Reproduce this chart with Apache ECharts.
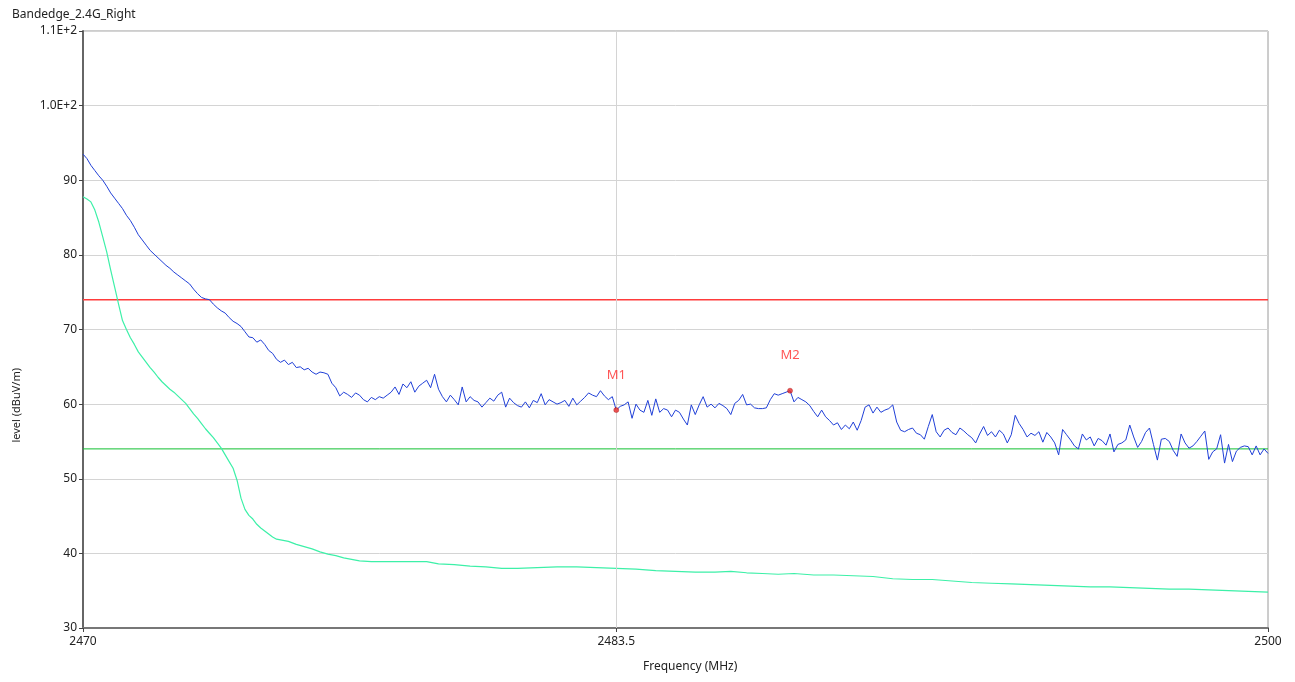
<!DOCTYPE html>
<html>
<head>
<meta charset="utf-8">
<script src="https://cdn.jsdelivr.net/npm/echarts@6/dist/echarts.min.js"></script>
<style>
html,body{margin:0;padding:0;background:#fff;}
#chart{width:1295px;height:682px;}
</style>
</head>
<body>
<div id="chart"></div>
<script>
// ---- data ----
const chartTitle = 'Bandedge_2.4G_Right';
const xName = 'Frequency (MHz)';
const yName = 'level (dBuV/m)';
const xMin = 2470, xMax = 2500;
const xTickValues = [2470, 2483.5, 2500];
const xTickLabels = ['2470', '2483.5', '2500'];
const yTickValues = [30, 40, 50, 60, 70, 80, 90, 100, 110];
const yTickLabels = ['30', '40', '50', '60', '70', '80', '90', '1.0E+2', '1.1E+2'];

// Peak trace (blue), sampled every 0.1 MHz from 2470 MHz
const peakStart = 2470;
const peakStep = 0.1;
const peakLevel = [
  93.5, 92.9, 92.0, 91.3, 90.6, 90.0, 89.2, 88.3, 87.6, 86.9,
  86.2, 85.3, 84.6, 83.7, 82.7, 82.0, 81.3, 80.6, 80.1, 79.6,
  79.1, 78.6, 78.2, 77.7, 77.3, 76.9, 76.5, 76.1, 75.4, 74.8,
  74.3, 74.1, 74.0, 73.4, 72.9, 72.5, 72.2, 71.6, 71.1, 70.8,
  70.4, 69.7, 69.0, 68.9, 68.3, 68.6, 68.0, 67.2, 66.8, 66.0,
  65.6, 65.9, 65.3, 65.6, 64.9, 65.0, 64.6, 64.8, 64.3, 64.0,
  64.3, 64.2, 64.0, 62.8, 62.2, 61.1, 61.6, 61.3, 60.9, 61.5,
  61.2, 60.6, 60.3, 60.9, 60.6, 61.0, 60.8, 61.2, 61.6, 62.3,
  61.3, 62.7, 62.2, 63.0, 61.6, 62.4, 62.8, 63.2, 62.2, 64.0,
  62.0, 61.0, 60.3, 61.2, 60.6, 59.9, 62.3, 60.3, 61.0, 60.5,
  60.3, 59.6, 60.2, 60.8, 60.4, 61.2, 61.6, 59.6, 60.8, 60.2,
  59.8, 59.6, 60.3, 59.5, 60.5, 60.2, 61.4, 59.9, 60.6, 60.3,
  60.0, 60.2, 60.5, 59.7, 60.8, 59.9, 60.4, 60.9, 61.5, 61.2,
  61.0, 61.8, 61.1, 60.6, 61.0, 59.2, 59.7, 59.9, 60.3, 58.1,
  60.0, 59.2, 58.9, 60.5, 58.5, 60.7, 58.9, 59.4, 59.2, 58.3,
  59.2, 58.9, 58.0, 57.2, 59.9, 58.6, 59.9, 61.0, 59.6, 60.0,
  59.5, 60.1, 59.8, 59.4, 58.6, 60.1, 60.5, 61.3, 59.9, 60.0,
  59.5, 59.4, 59.4, 59.5, 60.6, 61.4, 61.2, 61.4, 61.6, 61.8,
  60.3, 60.9, 60.6, 60.3, 59.8, 59.0, 58.3, 59.2, 58.3, 57.8,
  57.2, 57.5, 56.6, 57.2, 56.7, 57.6, 56.5, 57.8, 59.6, 59.9,
  58.8, 59.6, 58.9, 59.2, 59.4, 59.9, 57.6, 56.5, 56.3, 56.6,
  56.8, 56.1, 55.9, 55.3, 57.0, 58.6, 56.3, 55.6, 56.5, 56.8,
  56.2, 55.9, 56.8, 56.4, 55.9, 55.5, 54.8, 56.0, 57.0, 55.8,
  56.3, 55.6, 56.5, 56.0, 54.8, 55.9, 58.5, 57.4, 56.6, 55.6,
  56.1, 55.8, 56.3, 54.9, 56.2, 55.6, 54.8, 53.2, 56.6, 55.9,
  55.2, 54.4, 54.0, 56.0, 55.2, 55.6, 54.4, 55.4, 55.1, 54.5,
  56.0, 53.6, 54.6, 54.8, 55.2, 57.2, 55.6, 54.2, 55.0, 56.2,
  56.8, 54.6, 52.5, 55.3, 55.4, 55.0, 53.8, 53.0, 56.0, 54.8,
  54.1, 54.4, 55.0, 55.7, 56.4, 52.6, 53.6, 54.0, 55.9, 52.1,
  54.6, 52.3, 53.7, 54.2, 54.4, 54.3, 53.2, 54.4, 53.2, 54.0,
  53.4
];

// Average trace (cyan)
const avgFreq = [
  2470.0, 2470.1, 2470.2, 2470.3, 2470.4, 2470.5, 2470.6, 2470.7, 2470.8, 2470.9,
  2471.0, 2471.1, 2471.2, 2471.3, 2471.4, 2471.5, 2471.6, 2471.7, 2471.8, 2471.9,
  2472.0, 2472.1, 2472.2, 2472.3, 2472.4, 2472.5, 2472.6, 2472.7, 2472.8, 2472.9,
  2473.0, 2473.1, 2473.2, 2473.3, 2473.4, 2473.5, 2473.6, 2473.7, 2473.8, 2473.9,
  2474.0, 2474.1, 2474.2, 2474.3, 2474.4, 2474.5, 2474.6, 2474.7, 2474.8, 2474.9,
  2475.0, 2475.2, 2475.4, 2475.6, 2475.8, 2476.0, 2476.2, 2476.4, 2476.6, 2476.8,
  2477.0, 2477.3, 2477.6, 2478.0, 2478.4, 2478.7, 2479.0, 2479.4, 2479.8, 2480.2,
  2480.6, 2481.0, 2481.5, 2482.0, 2482.5, 2483.0, 2483.5, 2484.0, 2484.5, 2485.0,
  2485.5, 2486.0, 2486.4, 2486.8, 2487.2, 2487.6, 2488.0, 2488.5, 2489.0, 2489.5,
  2490.0, 2490.5, 2491.0, 2491.5, 2492.0, 2492.5, 2493.0, 2493.5, 2494.0, 2494.5,
  2495.0, 2495.5, 2496.0, 2496.5, 2497.0, 2497.5, 2498.0, 2498.5, 2499.0, 2499.5,
  2500.0
];
const avgLevel = [
  87.8, 87.5, 87.1, 86.0, 84.4, 82.4, 80.4, 78.0, 75.7, 73.4,
  71.2, 70.0, 68.9, 68.0, 67.0, 66.3, 65.6, 64.9, 64.3, 63.6,
  63.0, 62.5, 62.0, 61.6, 61.1, 60.6, 60.1, 59.4, 58.7, 58.1,
  57.4, 56.7, 56.1, 55.5, 54.8, 54.1, 53.2, 52.3, 51.4, 49.8,
  47.4, 45.9, 45.1, 44.6, 43.9, 43.4, 43.0, 42.6, 42.2, 41.9,
  41.8, 41.6, 41.2, 40.9, 40.6, 40.2, 39.9, 39.7, 39.4, 39.2,
  39.0, 38.9, 38.9, 38.9, 38.9, 38.9, 38.6, 38.5, 38.3, 38.2,
  38.0, 38.0, 38.1, 38.2, 38.2, 38.1, 38.0, 37.9, 37.7, 37.6,
  37.5, 37.5, 37.6, 37.4, 37.3, 37.2, 37.3, 37.1, 37.1, 37.0,
  36.9, 36.6, 36.5, 36.5, 36.3, 36.1, 36.0, 35.9, 35.8, 35.7,
  35.6, 35.5, 35.5, 35.4, 35.3, 35.2, 35.2, 35.1, 35.0, 34.9,
  34.8
];

// Limit lines
const limitPeak = 74;
const limitAvg = 54;

// Markers
const markerNames = ['M1', 'M2'];
const markerFreq = [2483.5, 2487.9];
const markerLevel = [59.2, 61.8];

// ---- chart ----
const peakData = peakLevel.map((v, i) => [+(peakStart + i * peakStep).toFixed(1), v]);
const avgData = avgFreq.map((f, i) => [f, avgLevel[i]]);
const markerData = markerNames.map((n, i) => ({ name: n, value: [markerFreq[i], markerLevel[i]] }));

const fontFam = '"Segoe UI", "Noto Sans", "DejaVu Sans", sans-serif';
const chart = echarts.init(document.getElementById('chart'), null, { renderer: 'canvas' });

function hLine(name, value, color, width) {
  return {
    name: name, type: 'line', z: 2, silent: true, showSymbol: false,
    data: [[xMin, value], [xMax, value]],
    lineStyle: { color: color, width: width },
    itemStyle: { color: color }
  };
}

chart.setOption({
  animation: false,
  backgroundColor: '#ffffff',
  grid: {
    left: 83, right: 27, top: 31, bottom: 54,
    show: true, borderColor: '#9a9a9a', borderWidth: 1, backgroundColor: 'transparent'
  },
  title: {
    text: chartTitle, left: 7, top: 4,
    textStyle: { fontSize: 12, fontWeight: 'normal', color: '#222', fontFamily: fontFam }
  },
  graphic: [
    {
      type: 'text', left: 11, top: 368, rotation: Math.PI / 2,
      style: { text: yName, fill: '#222', font: '11px ' + fontFam }
    },
    {
      type: 'text', left: 643, top: 661,
      style: { text: xName, fill: '#222', font: '12px ' + fontFam }
    }
  ],
  xAxis: {
    type: 'value', min: xMin, max: xMax,
    axisLine: { show: true, onZero: false, lineStyle: { color: '#777', width: 2 } },
    axisTick: { show: true, customValues: xTickValues, length: 4, lineStyle: { color: '#444' } },
    axisLabel: {
      customValues: xTickValues, color: '#222', fontSize: 12, fontFamily: fontFam, margin: 8,
      formatter: v => { const i = xTickValues.indexOf(v); return i >= 0 ? xTickLabels[i] : ''; },
      showMinLabel: true, showMaxLabel: true
    },
    splitLine: { show: false }
  },
  yAxis: {
    type: 'value', min: 30, max: 110, interval: 10,
    axisLine: { show: true, onZero: false, lineStyle: { color: '#666', width: 2 } },
    axisTick: { show: true, length: 4, lineStyle: { color: '#444' } },
    axisLabel: {
      color: '#222', fontSize: 12, fontFamily: fontFam, margin: 6,
      formatter: v => { const i = yTickValues.indexOf(v); return i >= 0 ? yTickLabels[i] : ''; }
    },
    splitLine: { show: true, lineStyle: { color: '#d4d4d4', width: 1 } }
  },
  series: [
    {
      name: 'grid', type: 'line', data: [], z: 1, silent: true,
      markLine: {
        silent: true, symbol: 'none', label: { show: false },
        lineStyle: { color: '#d4d4d4', width: 1, type: 'solid' },
        data: [{ xAxis: 2483.5 }]
      }
    },
    hLine('Peak limit', limitPeak, '#ff3b3b', 1.5),
    hLine('Average limit', limitAvg, '#10c030', 1),
    {
      name: 'Average', type: 'line', data: avgData, showSymbol: false, z: 3,
      lineStyle: { color: '#3df0a8', width: 1.2 }
    },
    {
      name: 'Peak', type: 'line', data: peakData, showSymbol: false, z: 4,
      lineStyle: { color: '#2040d8', width: 1 }
    },
    {
      name: 'markers', type: 'scatter', data: markerData, z: 5,
      symbol: 'circle', symbolSize: 5,
      itemStyle: { color: '#e82a2a', borderColor: '#a01010', borderWidth: 0.5 },
      label: {
        show: true, position: 'top', distance: 26, formatter: p => p.name,
        color: '#ff2a2a', fontSize: 13, fontFamily: fontFam
      }
    }
  ]
});
</script>
</body>
</html>
